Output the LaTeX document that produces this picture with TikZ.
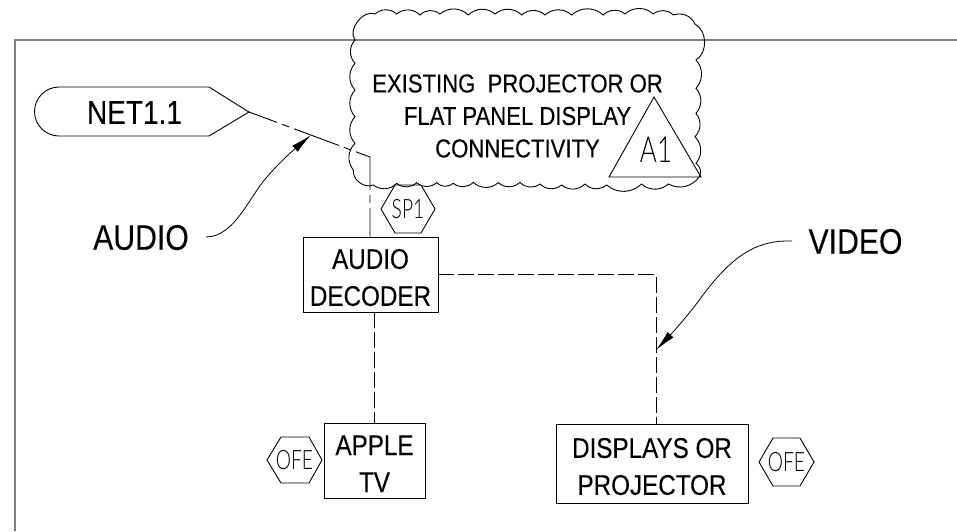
\documentclass[tikz,border=0pt]{standalone}
\usepackage{fontspec}
\setmainfont{Liberation Sans}[FakeStretch=0.85,FakeBold=0.15]
\newfontfamily\thinfont{Lato Light}[FakeStretch=0.72]
\usetikzlibrary{arrows.meta}
\newcommand{\fs}[1]{\fontsize{#1}{37}\selectfont}
\newcommand{\drop}{\rule{0pt}{26pt}}
\tikzset{
  frameline/.style={draw=black!50,line width=1.6pt},
  ink/.style={draw=black,line width=0.9pt},
  devbox/.style={ink,fill=white,inner sep=0pt,align=center,font=\fs{28.5}},
  biglabel/.style={inner sep=0pt,font=\fs{35.5}},
  thinlabel/.style={inner sep=0pt,font=\thinfont\fontsize{26.7}{26.7}\selectfont},
  sc/.style={bend left=42},
  centerline/.style={ink,dash pattern=on 48pt off 5pt on 8pt off 5pt,dash phase=18pt},
  hidden/.style={ink,dash pattern=on 16pt off 4pt},
  leader/.style={ink,line width=0.8pt,-{Latex[length=21pt,width=8pt]}}
}
\begin{document}
\begin{tikzpicture}[x=1pt,y=-1pt]
\useasboundingbox (0,0) rectangle (957,531);
\draw[frameline] (15,531) -- (15,40) -- (957,40);
% cloud
\begin{scope}[shift={(340,0)},x=0.3333pt,y=-0.3333pt]
\draw[ink] (45,120) to[bend left=75] (105,42) to[sc] (170,42) to[sc] (240,45) to[sc] (300,42)
 to[sc] (385,45) to[sc] (465,42) to[sc] (545,45) to[sc] (615,45) to[sc] (695,45)
 to[sc] (790,45) to[sc] (855,42) to[sc] (940,42) to[sc] (1000,45) to[sc] (1065,72)
 to[bend left=60] (1068,180) to[sc] (1068,265) to[sc] (1068,340) to[sc] (1065,410) to[sc] (1068,490)
 to[sc] (1078,530) to[sc] (985,552) to[sc] (905,552) to[sc] (800,555) to[sc] (735,552)
 to[sc] (665,555) to[sc] (600,552) to[sc] (540,547) to[sc] (475,548) to[sc] (400,547)
 to[sc] (340,550) to[sc] (290,548) to[sc] (230,548) to[sc] (170,550) to[sc] (100,555)
 to[bend left=60] (40,510) to[sc] (45,430) to[sc] (45,350) to[sc] (45,270) to[sc] (45,190) to[sc] cycle;
\end{scope}
\node[inner sep=0pt,align=center,font=\fontsize{26}{32.5}\selectfont] (cloudtext) at (517.5,116)
  {EXISTING\ \ PROJECTOR OR\\FLAT PANEL DISPLAY\\CONNECTIVITY};
% triangle
\draw[ink] (654,97) -- (701,177) -- (609,177) -- cycle;
\node[inner sep=0pt,font=\thinfont\fontsize{36}{36}\selectfont] (a1) at (656,150) {A1};
% NET tag
\draw[ink] (59,87) -- (209,87) -- (249,112) -- (209,136) -- (59,136) arc[start angle=270,end angle=90,radius=24.5pt] -- cycle;
\coordinate (nettip) at (249,112);
\node[inner sep=0pt,font=\fs{33}] (net) at (134.5,112.5) {NET1.1};
% boxes
\node[devbox,minimum width=135pt,minimum height=75pt] (dec) at (370.5,274.5) {\drop AUDIO\\DECODER};
\node[devbox,minimum width=101pt,minimum height=75pt] (atv) at (374.5,460.5) {\drop APPLE\\TV};
\node[devbox,minimum width=192pt,minimum height=79pt] (disp) at (652,463.5) {\drop DISPLAYS OR\\PROJECTOR};
% hexagons
\draw[ink] (395,185) -- (421,185) -- (435,209) -- (421,233) -- (395,233) -- (381,209) -- cycle;
\node[thinlabel] (sp1) at (408,209) {SP1};
\draw[ink] (281,437) -- (309,437) -- (322,460) -- (309,483) -- (281,483) -- (267,460) -- cycle;
\node[thinlabel] (ofea) at (294.5,460) {OFE};
\draw[ink] (773,438) -- (800,438) -- (814,462) -- (800,486) -- (773,486) -- (759,462) -- cycle;
\node[thinlabel] (ofeb) at (786.5,462) {OFE};
% connectors
\coordinate (bend) at (370,157);
\draw[centerline] (nettip) -- (bend) -- (bend |- dec.north);
\draw[hidden] (dec.south -| atv.north) -- (atv.north);
\coordinate (vbend) at (656,274.5);
\draw[hidden] (dec.east) -- (vbend) -- (vbend |- disp.north);
% labels
\node[biglabel] (audio) at (141,237.5) {AUDIO};
\node[biglabel] (video) at (855.5,241.5) {VIDEO};
\coordinate (audiotip) at (311,135);
\coordinate (videotip) at (656,350);
\draw[leader] (206,237) .. controls (235,237) and (250,195) .. (267,177) .. controls (277,165) and (290,153) .. (audiotip);
\draw[leader] (792,241) .. controls (760,240) and (735,252) .. (703,295) .. controls (690,313) and (675,330) .. (videotip);
\end{tikzpicture}
\end{document}
